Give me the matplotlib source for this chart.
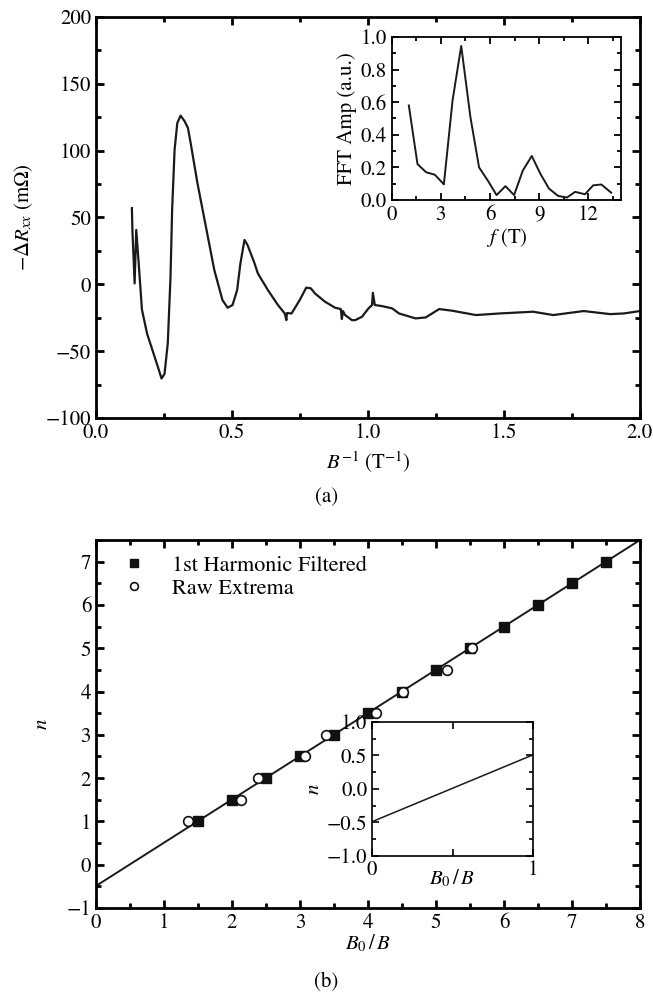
import matplotlib
matplotlib.use("Agg")
import matplotlib.pyplot as plt
from matplotlib.ticker import MultipleLocator

plt.rcParams['font.family'] = ['STIXGeneral', 'DejaVu Serif']
plt.rcParams['mathtext.fontset'] = 'stix'
plt.rcParams['font.size'] = 15

# (a) magnetoresistance vs inverse field
inv_b = [0.132, 0.134, 0.142, 0.148, 0.157, 0.169, 0.188, 0.212, 0.231, 0.241,
         0.252, 0.264, 0.274, 0.280, 0.289, 0.299, 0.311, 0.326, 0.338, 0.348,
         0.373, 0.404, 0.435, 0.465, 0.484, 0.502, 0.519, 0.531, 0.546, 0.557,
         0.583, 0.595, 0.632, 0.669, 0.694, 0.700, 0.702, 0.719, 0.749, 0.773,
         0.790, 0.805, 0.842, 0.879, 0.900, 0.904, 0.908, 0.916, 0.941, 0.953,
         0.978, 1.002, 1.015, 1.018, 1.025, 1.052, 1.089, 1.114, 1.175, 1.212,
         1.262, 1.311, 1.397, 1.484, 1.607, 1.681, 1.793, 1.891, 1.941, 2.0]
delta_r = [57, 40, 0.7, 40.7, 15.7, -19, -37, -52, -64, -70.5,
           -67, -44, 5.7, 56, 100.7, 120.7, 126.2, 122, 117, 105.8,
           75.7, 43.2, 10.7, -11.8, -17.5, -15.5, -4.3, 15.7, 33.2, 29.5,
           15.7, 8.2, -4.3, -15.5, -21.8, -26.8, -21.5, -21.8, -11.8, -2.5,
           -3, -6.8, -13, -17.5, -18.5, -26, -20, -23, -26.8, -26.8,
           -24.3, -18, -15.5, -6.3, -15.5, -16.3, -18, -21.8, -25.5, -24.8,
           -18.5, -19.8, -23, -21.8, -20.5, -23, -20, -22.3, -21.8, -20]

# FFT inset
fft_f = [1.04, 1.57, 2.1, 2.63, 3.18, 3.71, 4.24, 4.8, 5.33, 5.86, 6.4, 6.94,
         7.47, 8.0, 8.55, 9.08, 9.6, 10.16, 10.7, 11.2, 11.8, 12.3, 12.8, 13.4]
fft_amp = [0.58, 0.22, 0.17, 0.155, 0.096, 0.61, 0.945, 0.51, 0.20, 0.12, 0.03,
           0.085, 0.03, 0.18, 0.27, 0.16, 0.07, 0.025, 0.015, 0.05, 0.035,
           0.09, 0.095, 0.045]

# (b) Landau level index
filt_x = [1.5, 2.0, 2.5, 3.0, 3.5, 4.0, 4.5, 5.0, 5.5, 6.0, 6.5, 7.0, 7.5]
filt_n = [1.0, 1.5, 2.0, 2.5, 3.0, 3.5, 4.0, 4.5, 5.0, 5.5, 6.0, 6.5, 7.0]
raw_x = [1.36, 2.13, 2.38, 3.07, 3.38, 4.12, 4.52, 5.16, 5.53]
raw_n = [1.0, 1.5, 2.0, 2.5, 3.0, 3.5, 4.0, 4.5, 5.0]
fit_x = [0, 8]
fit_n = [-0.49, 7.5]
zoom_x = [0, 1]
zoom_n = [-0.49, 0.51]

fig = plt.figure(figsize=(6.53, 9.94), dpi=100)


def style(ax, lw, tl):
    for s in ax.spines.values():
        s.set_linewidth(lw)
    ax.tick_params(which='both', direction='in', top=True, right=True,
                   width=lw, pad=3.5)
    ax.tick_params(which='major', length=tl)
    ax.tick_params(which='minor', length=tl * 0.6)


def one_dec(v, p):
    return f"{v:.1f}".replace("-", "\u2212")


ax1 = fig.add_axes([0.147, 0.5795, 0.833, 0.4034])
ax1.plot(inv_b, delta_r, color='#1a1a1a', lw=1.6)
ax1.set_xlim(0, 2.0)
ax1.set_ylim(-100, 200)
ax1.xaxis.set_major_locator(MultipleLocator(0.5))
ax1.xaxis.set_minor_locator(MultipleLocator(0.25))
ax1.yaxis.set_major_locator(MultipleLocator(50))
ax1.yaxis.set_minor_locator(MultipleLocator(25))
ax1.xaxis.set_major_formatter(one_dec)
style(ax1, 2.0, 6)
ax1.set_xlabel(r"$B^{-1}$ (T$^{-1}$)", labelpad=5)
ax1.set_ylabel(r"$-\Delta R_{xx}$ (m$\Omega$)", labelpad=8)

ins1 = fig.add_axes([0.600, 0.7988, 0.351, 0.164])
ins1.plot(fft_f, fft_amp, color='#1a1a1a', lw=1.4)
ins1.set_xlim(0, 14)
ins1.set_ylim(0, 1.0)
ins1.xaxis.set_major_locator(MultipleLocator(3))
ins1.xaxis.set_minor_locator(MultipleLocator(1.5))
ins1.yaxis.set_major_locator(MultipleLocator(0.2))
ins1.yaxis.set_minor_locator(MultipleLocator(0.1))
ins1.yaxis.set_major_formatter(one_dec)
style(ins1, 1.3, 5)
ins1.set_xlabel(r"$f$ (T)", labelpad=1)
ins1.set_ylabel("FFT Amp (a.u.)", labelpad=3)

fig.text(0.5, 0.5, "(a)", ha='center', va='center', fontsize=15)

ax2 = fig.add_axes([0.147, 0.0865, 0.833, 0.3702])
ax2.plot(fit_x, fit_n, color='#1a1a1a', lw=1.4, zorder=2)
ax2.plot(filt_x, filt_n, ls='none', marker='s', ms=7.5, color='#111111',
         label="1st Harmonic Filtered", zorder=3)
ax2.plot(raw_x, raw_n, ls='none', marker='o', ms=7, mfc='white',
         mec='#111111', mew=1.2, label="Raw Extrema", zorder=4)
ax2.set_xlim(0, 8)
ax2.set_ylim(-1, 7.5)
ax2.xaxis.set_major_locator(MultipleLocator(1))
ax2.xaxis.set_minor_locator(MultipleLocator(0.5))
ax2.yaxis.set_major_locator(MultipleLocator(1))
ax2.yaxis.set_minor_locator(MultipleLocator(0.5))
style(ax2, 2.0, 6)
ax2.set_xlabel(r"$B_0\,/\,B$", labelpad=0)
ax2.set_ylabel(r"$n$", labelpad=10)
ax2.legend(loc='upper left', frameon=False, fontsize=16, handletextpad=0.7,
           borderaxespad=0.4, labelspacing=0.1, markerscale=0.8,
           borderpad=0.3)

ins2 = fig.add_axes([0.5697, 0.139, 0.2466, 0.1346])
ins2.plot(zoom_x, zoom_n, color='#1a1a1a', lw=1.1)
ins2.set_xlim(0, 1)
ins2.set_ylim(-1, 1)
ins2.set_xticks([0, 0.5, 1])
ins2.set_xticklabels(['0', '', '1'])
ins2.yaxis.set_major_locator(MultipleLocator(0.5))
ins2.yaxis.set_minor_locator(MultipleLocator(0.25))
ins2.yaxis.set_major_formatter(one_dec)
style(ins2, 1.2, 5)
ins2.set_xlabel(r"$B_0\,/\,B$")
ins2.xaxis.set_label_coords(0.5, -0.09)
ins2.set_ylabel(r"$n$", labelpad=2)

fig.text(0.5, 0.012, "(b)", ha='center', va='center', fontsize=15)

fig.savefig("out.png", dpi=100)
